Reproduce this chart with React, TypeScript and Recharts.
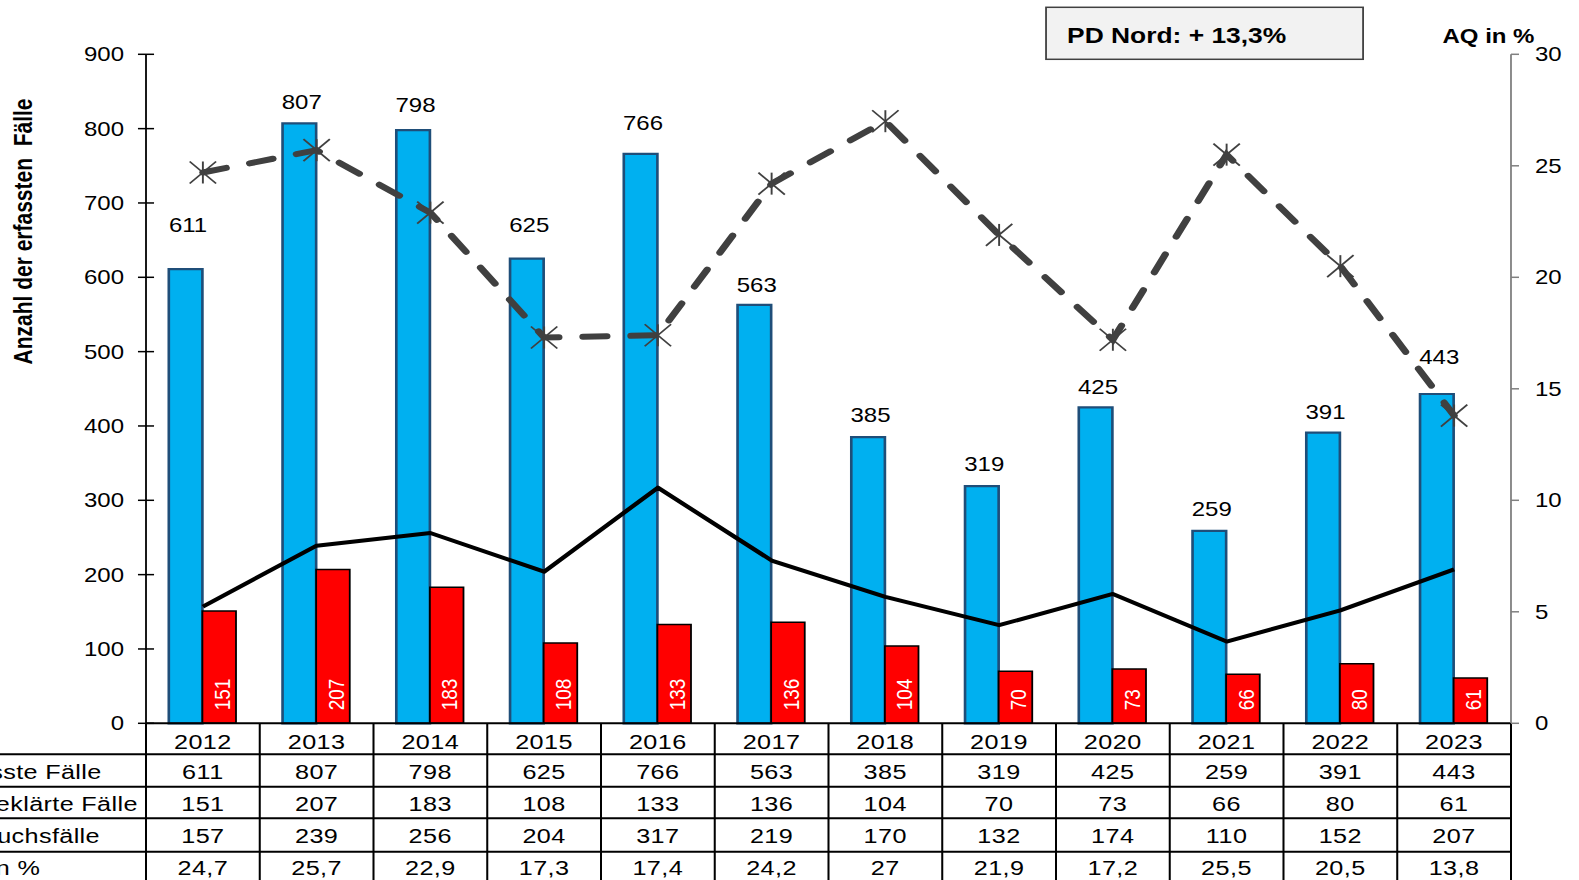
import React from 'react';
import { ComposedChart, Bar, Line, XAxis, YAxis, LabelList, Customized } from 'recharts';

// ---------- data ----------
const years = ['2012', '2013', '2014', '2015', '2016', '2017', '2018', '2019', '2020', '2021', '2022', '2023'];
const erfasst = [611, 807, 798, 625, 766, 563, 385, 319, 425, 259, 391, 443];
const aufgeklaert = [151, 207, 183, 108, 133, 136, 104, 70, 73, 66, 80, 61];
const versuch = [157, 239, 256, 204, 317, 219, 170, 132, 174, 110, 152, 207];
const aq = [24.7, 25.7, 22.9, 17.3, 17.4, 24.2, 27, 21.9, 17.2, 25.5, 20.5, 13.8];
const aqText = ['24,7', '25,7', '22,9', '17,3', '17,4', '24,2', '27', '21,9', '17,2', '25,5', '20,5', '13,8'];
const rowLabels = ['erfasste Fälle', 'aufgeklärte Fälle', 'Versuchsfälle', 'AQ in %'];
const leftTicks = [0, 100, 200, 300, 400, 500, 600, 700, 800, 900];
const rightTicks = [0, 5, 10, 15, 20, 25, 30];

// layout only (distance of the blue value labels above their bars, px)
const blueLabelGap = [44, 22, 25, 34, 31, 20, 22, 22, 21, 22, 21, 37];

const data = years.map((y, i) => ({
  year: y,
  erfasst: erfasst[i],
  aufgeklaert: aufgeklaert[i],
  versuch: versuch[i],
  aq: aq[i],
}));

// ---------- layout ----------
const S = 1.2; // horizontal stretch of the original picture
const W = 1365.83;
const H = 900;
const TOP = 54.3;
const PLOT_BOTTOM = 723.3;
const LEFT_W = 171.67;
const RIGHT_W = 56.67;
const LT_MARGIN = 18.3;
const RT_MARGIN = 20;
const FONT = '"Liberation Sans", Arial, Helvetica, sans-serif';

const LeftTick = (props: any) => {
  const { x, y, payload } = props;
  const ax = x + LT_MARGIN;
  return (
    <g>
      <line x1={ax - 6.7} x2={ax + 6.7} y1={y} y2={y} stroke="#000" strokeWidth={1.5} />
      <text x={x} y={y} dy="0.36em" textAnchor="end" fontSize={20} fill="#000">
        {payload.value}
      </text>
    </g>
  );
};

const RightTick = (props: any) => {
  const { x, y, payload } = props;
  const ax = x - RT_MARGIN;
  return (
    <g>
      <line x1={ax} x2={ax + 6.7} y1={y} y2={y} stroke="#808080" strokeWidth={1.5} />
      <text x={x} y={y} dy="0.36em" textAnchor="start" fontSize={20} fill="#000">
        {payload.value}
      </text>
    </g>
  );
};

const TableTick = (props: any) => {
  const { x, y, payload, index } = props;
  const half = payload && typeof payload.offset === 'number' && payload.offset > 0 ? payload.offset : 45.5;
  const left = x - half;
  const right = x + half;
  const vals = [erfasst[index], aufgeklaert[index], versuch[index], aqText[index]];
  const rowBase = [55.6, 87.8, 120, 152.2];
  const hLines = [31, 63.4, 95, 128.4];
  return (
    <g>
      <line x1={left} x2={left} y1={y} y2={y + 200} stroke="#000" strokeWidth={1.7} />
      {index === years.length - 1 && (
        <line x1={right} x2={right} y1={y} y2={y + 200} stroke="#000" strokeWidth={1.7} />
      )}
      <text x={x} y={y + 25.6} textAnchor="middle" fontSize={21} fill="#000" letterSpacing={0.4}>
        {payload.value}
      </text>
      {vals.map((v, r) => (
        <text key={r} x={x} y={y + rowBase[r]} textAnchor="middle" fontSize={21} fill="#000" letterSpacing={0.4}>
          {v}
        </text>
      ))}
      {index === 0 && (
        <g>
          {hLines.map((dy, k) => (
            <line
              key={k}
              x1={0}
              x2={left + years.length * 2 * half}
              y1={y + dy}
              y2={y + dy}
              stroke="#000"
              strokeWidth={2}
            />
          ))}
          {rowLabels.map((t, r) => (
            <text key={t} x={4.5} y={y + rowBase[r]} textAnchor="start" fontSize={21} fill="#000" letterSpacing={0.3}>
              {t}
            </text>
          ))}
        </g>
      )}
    </g>
  );
};

const BlueLabel = (props: any) => {
  const { x, y, width, value, index } = props;
  return (
    <text x={x + width / 2 + 2} y={y - blueLabelGap[index]} dy="0.36em" textAnchor="middle" fontSize={20} fill="#000">
      {value}
    </text>
  );
};

const RedLabel = (props: any) => {
  const { x, y, width, height, value } = props;
  const tx = x + width / 2 + 2;
  const ty = y + height - 13;
  return (
    <text
      x={tx}
      y={ty}
      dy="0.36em"
      transform={`rotate(-90 ${tx} ${ty})`}
      textAnchor="start"
      fontSize={19}
      fill="#fff"
    >
      {value}
    </text>
  );
};

const Star = (props: any) => {
  const { cx, cy } = props;
  if (cx == null || cy == null) return null;
  const hx = 11;
  const hy = 11;
  return (
    <g stroke="#404040" strokeWidth={1.6}>
      <line x1={cx - hx} y1={cy - hy} x2={cx + hx} y2={cy + hy} />
      <line x1={cx - hx} y1={cy + hy} x2={cx + hx} y2={cy - hy} />
      <line x1={cx} y1={cy - hy} x2={cx} y2={cy + hy} />
    </g>
  );
};

const Overlay = () => (
  <g>
    <text
      x={68.8}
      y={231.5}
      dy="0.36em"
      transform="rotate(-90 68.8 231.5)"
      textAnchor="middle"
      fontSize={21}
      fontWeight="bold"
      fill="#000"
    >
      {'Anzahl der erfassten\u00a0 Fälle'}
    </text>
    <text x={1290.4} y={43} textAnchor="middle" fontSize={20} fontWeight="bold" fill="#000">
      AQ in %
    </text>
    <rect x={921.7} y={7.3} width={264.2} height={52} fill="#f2f2f2" stroke="#404040" strokeWidth={1.5} />
    <text x={939.2} y={43} textAnchor="start" fontSize={22} fontWeight="bold" fill="#000">
      PD Nord: + 13,3%
    </text>
  </g>
);

export default function App() {
  return (
    <div
      style={{
        position: 'fixed',
        left: 0,
        top: 0,
        width: 1579,
        height: 880,
        overflow: 'hidden',
        background: '#fff',
        fontFamily: FONT,
      }}
    >
      <div
        style={{
          position: 'absolute',
          left: -60,
          top: 0,
          width: W,
          height: H,
          transform: `scaleX(${S})`,
          transformOrigin: '0 0',
        }}
      >
        <ComposedChart
          width={W}
          height={H}
          data={data}
          margin={{ top: TOP, right: 0, bottom: 0, left: 0 }}
          barGap={0}
        >
          <XAxis
            dataKey="year"
            xAxisId={0}
            height={H - PLOT_BOTTOM}
            interval={0}
            tickLine={false}
            tickSize={0}
            tickMargin={0}
            axisLine={{ stroke: '#000', strokeWidth: 2 }}
            tick={<TableTick />}
          />
          <YAxis
            yAxisId="left"
            orientation="left"
            width={LEFT_W}
            domain={[0, 900]}
            ticks={leftTicks}
            interval={0}
            tickLine={false}
            tickSize={0}
            tickMargin={LT_MARGIN}
            axisLine={{ stroke: '#000', strokeWidth: 1.5 }}
            tick={<LeftTick />}
          />
          <YAxis
            yAxisId="right"
            orientation="right"
            width={RIGHT_W}
            domain={[0, 30]}
            ticks={rightTicks}
            interval={0}
            tickLine={false}
            tickSize={0}
            tickMargin={RT_MARGIN}
            axisLine={{ stroke: '#808080', strokeWidth: 1.5 }}
            tick={<RightTick />}
          />
          <Bar
            yAxisId="left"
            dataKey="erfasst"
            barSize={28}
            fill="#00B0F0"
            stroke="#1F4E79"
            strokeWidth={2.2}
            isAnimationActive={false}
          >
            <LabelList dataKey="erfasst" content={<BlueLabel />} />
          </Bar>
          <Bar
            yAxisId="left"
            dataKey="aufgeklaert"
            barSize={28}
            fill="#FF0000"
            stroke="#000"
            strokeWidth={1.5}
            isAnimationActive={false}
          >
            <LabelList dataKey="aufgeklaert" content={<RedLabel />} />
          </Bar>
          <Line
            yAxisId="left"
            dataKey="versuch"
            type="linear"
            stroke="#000"
            strokeWidth={4}
            strokeLinejoin="round"
            dot={false}
            activeDot={false}
            isAnimationActive={false}
          />
          <Line
            yAxisId="right"
            dataKey="aq"
            type="linear"
            stroke="#404040"
            strokeWidth={6}
            strokeDasharray="20 20"
            strokeLinecap="round"
            dot={<Star />}
            activeDot={false}
            isAnimationActive={false}
          />
          <Customized component={<Overlay />} />
        </ComposedChart>
      </div>
    </div>
  );
}
